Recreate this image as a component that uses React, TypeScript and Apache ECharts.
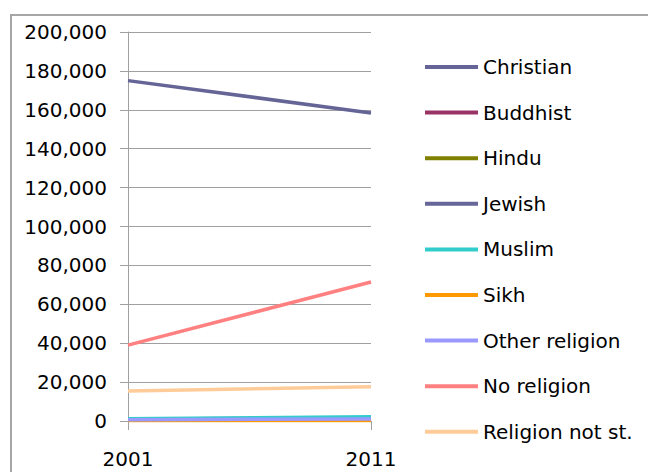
import React, { useEffect, useRef } from "react";
import * as echarts from "echarts";

const years = ["2001", "2011"];
const seriesNames = [
  "Christian",
  "Buddhist",
  "Hindu",
  "Jewish",
  "Muslim",
  "Sikh",
  "Other religion",
  "No religion",
  "Religion not st.",
];
const christian = [175000, 158400];
const buddhist = [1000, 1500];
const hindu = [500, 900];
const jewish = [400, 500];
const muslim = [1100, 2200];
const sikh = [200, 300];
const otherReligion = [700, 1000];
const noReligion = [39000, 71500];
const religionNotStated = [15400, 17600];
const seriesValues = [
  christian,
  buddhist,
  hindu,
  jewish,
  muslim,
  sikh,
  otherReligion,
  noReligion,
  religionNotStated,
];
const colors = [
  "#646496",
  "#993366",
  "#808000",
  "#666699",
  "#33CCCC",
  "#FF9900",
  "#9999FF",
  "#FF8080",
  "#FFCC99",
];

export default function App() {
  const ref = useRef<HTMLDivElement>(null);
  useEffect(() => {
    if (!ref.current) return;
    const chart = echarts.init(ref.current, null, { renderer: "svg" });
    const font = "DejaVu Sans";
    chart.setOption({
      animation: false,
      backgroundColor: "#ffffff",
      color: colors,
      graphic: [
        {
          type: "rect",
          shape: { x: 11, y: 15, width: 700, height: 500 },
          style: { fill: "none", stroke: "#a6a6a6", lineWidth: 2 },
          silent: true,
        },
      ],
      grid: { left: 128, right: 277, top: 32, bottom: 51, containLabel: false },
      legend: {
        orient: "vertical",
        left: 420,
        top: 50,
        icon: "rect",
        itemWidth: 53,
        itemHeight: 4,
        itemGap: 21.6,
        data: seriesNames,
        textStyle: { fontFamily: font, fontSize: 20, color: "#000", lineHeight: 24, padding: [0, 0, 0, 0] },
      },
      xAxis: {
        type: "category",
        data: years,
        boundaryGap: false,
        axisLine: { show: true, lineStyle: { color: "#a0a0a0", width: 1 } },
        axisTick: { show: true, length: 9, lineStyle: { color: "#a0a0a0" } },
        axisLabel: { fontFamily: font, fontSize: 20, color: "#000", margin: 28 },
        splitLine: { show: false },
      },
      yAxis: {
        type: "value",
        min: 0,
        max: 200000,
        interval: 20000,
        axisLine: { show: true, lineStyle: { color: "#a0a0a0", width: 1 } },
        axisTick: { show: true, length: 8, lineStyle: { color: "#a0a0a0" } },
        axisLabel: {
          fontFamily: font,
          fontSize: 20,
          color: "#000",
          margin: 21,
          formatter: (v: number) => v.toLocaleString("en-US"),
        },
        splitLine: { show: true, lineStyle: { color: "#a0a0a0", width: 1 } },
      },
      series: seriesNames.map((name, i) => ({
        name,
        type: "line",
        data: seriesValues[i],
        showSymbol: false,
        symbol: "none",
        lineStyle: { width: 3.5, color: colors[i] },
        itemStyle: { color: colors[i] },
      })),
    });
    return () => chart.dispose();
  }, []);
  return (
    <div
      ref={ref}
      style={{ position: "fixed", left: 0, top: 0, width: 648, height: 472 }}
    />
  );
}
